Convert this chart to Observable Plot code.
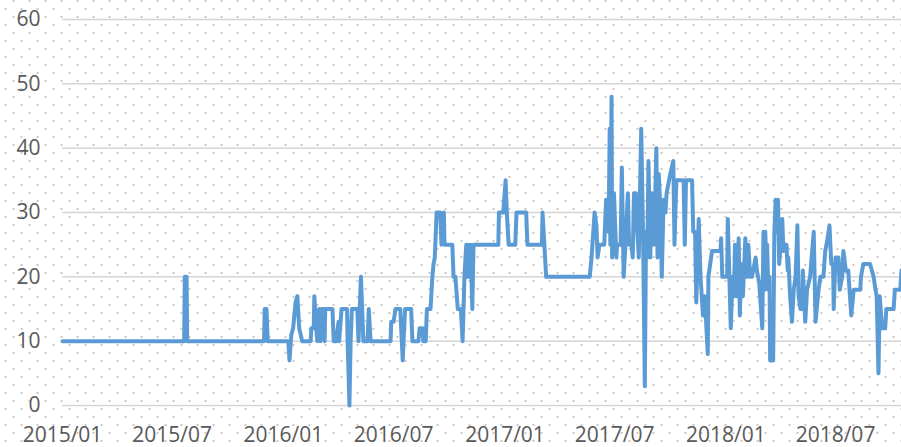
<!DOCTYPE html>
<html>
<head>
<meta charset="utf-8">
<script src="https://cdn.jsdelivr.net/npm/d3@7"></script>
<script src="https://cdn.jsdelivr.net/npm/@observablehq/plot@0.6"></script>
<style>
  html, body { margin: 0; padding: 0; }
  body {
    width: 901px; height: 447px; overflow: hidden;
    background-color: #ffffff;
    background-image: url("data:image/svg+xml;utf8,<svg xmlns='http://www.w3.org/2000/svg' width='16' height='16'><rect x='12.5' y='0' width='2' height='2' fill='%23c9c9c9'/><rect x='4.5' y='8' width='2' height='2' fill='%23c9c9c9'/></svg>");
    background-size: 16px 16px;
  }
  #chart svg { display: block; }
</style>
</head>
<body>
<div id="chart"></div>
<script>
// Days since 2015-01-01 and the value at that day
const startDate = "2015-01-01";
const days = [0,201,202,205,206,333,334,337,339,373,375,378,381,385,388,391,396,410,411,415,416,419,421,424,426,428,431,433,434,446,448,452,456,457,461,463,470,471,474,476,478,487,489,493,497,504,506,509,542,543,547,550,558,562,566,576,578,588,590,595,596,600,602,608,611,613,615,618,624,626,630,631,644,646,649,653,658,661,664,667,669,671,672,674,677,679,720,721,728,732,734,737,748,750,766,768,792,793,799,871,874,879,882,884,887,895,898,900,902,904,905,907,908,911,913,915,916,922,924,927,930,934,936,940,942,944,947,949,952,956,959,962,964,966,968,971,974,977,978,981,983,985,988,990,993,996,998,1004,1009,1011,1014,1026,1028,1030,1040,1042,1045,1047,1051,1054,1058,1061,1066,1067,1073,1087,1088,1090,1098,1099,1104,1107,1109,1111,1114,1117,1119,1121,1124,1128,1131,1133,1136,1139,1145,1147,1151,1156,1158,1160,1161,1163,1164,1166,1168,1169,1174,1176,1178,1180,1182,1184,1189,1191,1194,1196,1198,1199,1202,1205,1208,1211,1214,1216,1219,1222,1223,1227,1230,1235,1241,1244,1246,1249,1252,1257,1260,1264,1267,1270,1273,1274,1277,1282,1284,1288,1290,1294,1298,1303,1307,1318,1319,1323,1334,1340,1343,1345,1348,1350,1354,1359,1361,1373,1375,1384,1386];
const values = [10,10,20,20,10,10,15,15,10,10,7,11,12,16,17,12,10,10,12,12,17,12,10,15,10,15,15,10,15,15,10,10,13,10,15,15,15,10,0,10,15,15,10,20,10,10,15,10,10,13,13,15,15,7,15,15,10,10,12,12,10,10,15,15,20,22,23,30,30,25,30,25,25,20,20,15,15,10,20,25,20,25,20,25,15,25,25,30,30,35,30,25,25,30,30,25,25,30,20,20,23,30,28,23,25,25,32,28,27,43,25,48,23,33,28,23,25,25,37,20,25,33,25,25,23,33,33,28,23,43,27,3,27,23,38,23,33,25,28,40,23,36,30,20,32,30,33,36,38,25,35,35,25,35,35,27,27,16,29,20,14,17,8,20,24,24,26,20,20,29,12,20,17,25,17,26,14,22,17,26,20,25,20,20,23,21,19,12,27,18,27,20,25,18,20,7,7,27,32,27,32,22,29,24,25,25,21,23,17,13,18,20,28,17,15,15,21,13,18,20,27,13,15,18,20,20,24,26,28,22,22,15,23,23,18,20,24,21,21,14,18,18,20,22,22,20,18,17,5,17,12,12,15,15,18,18,21];
const endDay = 1386;
const yTicks = [0, 10, 20, 30, 40, 50, 60];
const xTickLabels = ["2015/01", "2015/07", "2016/01", "2016/07", "2017/01", "2017/07", "2018/01", "2018/07"];

const start = new Date(startDate + "T00:00:00Z");
const data = days.map((d, i) => ({date: d3.utcDay.offset(start, d), value: values[i]}));
const parseTick = d3.utcParse("%Y/%m");
const xTicks = xTickLabels.map(parseTick);

const chart = Plot.plot({
  width: 901,
  height: 447,
  marginLeft: 62,
  marginRight: 0,
  marginTop: 19,
  marginBottom: 42,
  style: {
    background: "transparent",
    fontFamily: "'Open Sans', 'Liberation Sans', sans-serif",
    fontSize: "21px",
    color: "#595959"
  },
  x: {
    type: "utc",
    domain: [start, d3.utcDay.offset(start, endDay)],
    ticks: xTicks,
    tickFormat: d3.utcFormat("%Y/%m"),
    tickSize: 0,
    tickPadding: 22,
    label: null
  },
  y: {
    domain: [0, 60],
    ticks: yTicks,
    tickSize: 0,
    tickPadding: 22,
    label: null
  },
  marks: [
    Plot.ruleY(yTicks, {stroke: "#d6d6d6", strokeWidth: 1.5}),
    Plot.line(data, {x: "date", y: "value", stroke: "#5b9bd5", strokeWidth: 4, strokeLinejoin: "round", strokeLinecap: "round"})
  ]
});
document.getElementById("chart").appendChild(chart);
</script>
</body>
</html>
